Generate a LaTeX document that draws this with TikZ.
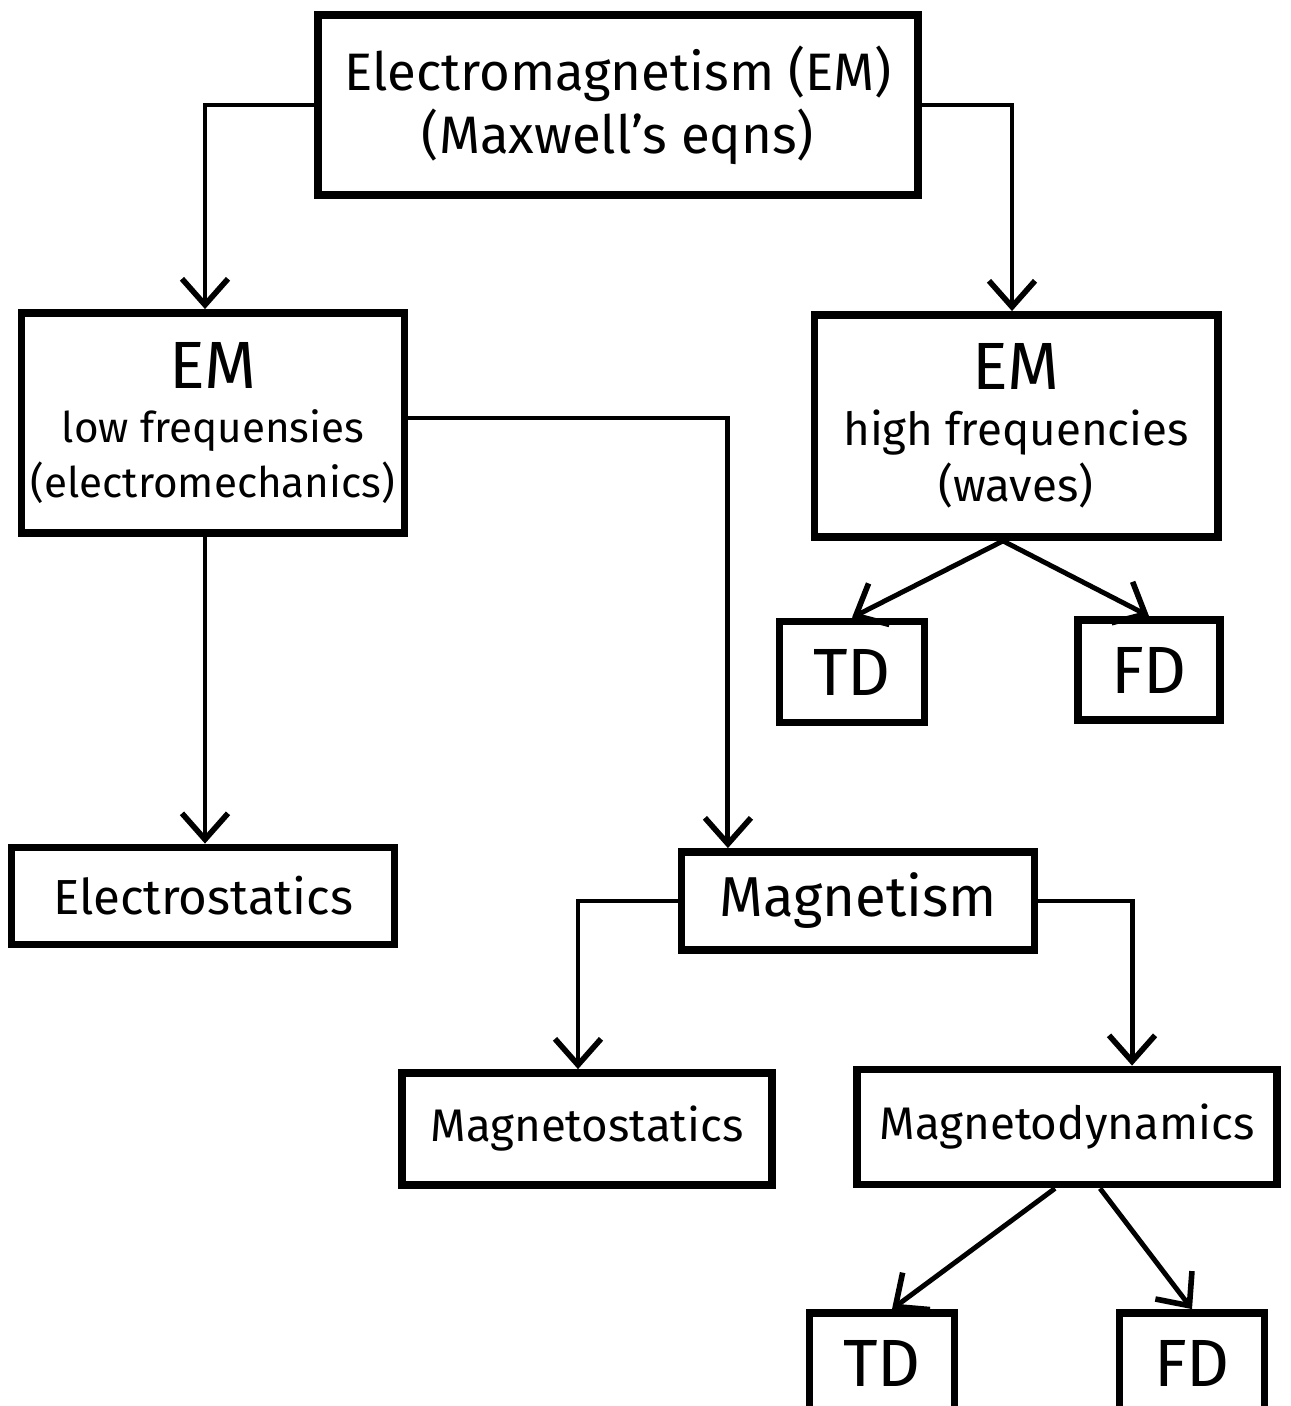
\documentclass[tikz,border=0pt]{standalone}
\usepackage{fontspec}
\setmainfont{Fira Sans}
\usetikzlibrary{arrows.meta}

\begin{document}
\begin{tikzpicture}[x=0.01cm, y=-0.01cm]
        \tikzstyle{every node}=[draw, line width=2.2pt, inner sep=2pt, align=center, font=\fontsize{13}{16}\selectfont]
        \tikzstyle{arr}=[line width=1.4pt, -{Straight Barb[length=2.6mm, width=4.6mm, line width=1.6pt]}]
        \tikzstyle{big}=[font=\fontsize{19}{22}\selectfont]
        \useasboundingbox (0,0) rectangle (1291,1406);
        \clip (0,0) rectangle (1291,1406);
        \node [minimum width=6cm, minimum height=1.8cm, font=\fontsize{15}{18}\selectfont] (em) at (618,105) {Electromagnetism (EM)\\(Maxwell's eqns)};
        \node [minimum width=3.83cm, minimum height=2.2cm, font=\fontsize{12}{15.5}\selectfont] (low) at (213,423) {{\fontsize{19}{22}\selectfont EM}\\low frequensies\\(electromechanics)};
        \node [minimum width=4.03cm, minimum height=2.22cm] (high) at (1016,426) {{\fontsize{19}{22}\selectfont EM}\\high frequencies\\(waves)};
        \node [big, minimum width=1.45cm, minimum height=1.01cm] (tdw) at (852,672) {TD};
        \node [big, minimum width=1.42cm, minimum height=1cm] (fdw) at (1149,670) {FD};
        \node [minimum width=3.83cm, minimum height=0.97cm, font=\fontsize{14}{17}\selectfont] (estat) at (203,896) {Electrostatics};
        \node [minimum width=3.53cm, minimum height=0.98cm, font=\fontsize{16}{19}\selectfont] (magn) at (858,901) {Magnetism};
        \node [minimum width=3.7cm, minimum height=1.12cm] (mstat) at (587,1129) {Magnetostatics};
        \node [minimum width=4.2cm, minimum height=1.15cm] (mdyn) at (1067,1127) {Magnetodynamics};
        \node [big, minimum width=1.45cm, minimum height=1cm] (tdm) at (882,1363) {TD};
        \node [big, minimum width=1.45cm, minimum height=1cm] (fdm) at (1192,1363) {FD};
        \draw [arr] (em.west) -| ([xshift=-0.08cm]low.north);
        \draw [arr] (em.east) -| ([xshift=-0.04cm]high.north);
        \draw [arr] ([yshift=0.05cm]low.east) -| ([xshift=-1.3cm]magn.north);
        \draw [arr] ([xshift=-0.08cm]low.south) -- ([xshift=-0.08cm]low.south |- estat.north);
        \draw [arr] ([xshift=-0.13cm]high.south) -- (tdw.north);
        \draw [arr] ([xshift=-0.13cm]high.south) -- (fdw.north);
        \draw [arr] (magn.west) -| ([xshift=-0.09cm]mstat.north);
        \draw [arr] (magn.east) -| ([xshift=0.65cm]mdyn.north);
        \draw [arr] ([xshift=-0.12cm]mdyn.south) -- ([xshift=0.1cm]tdm.north);
        \draw [arr] ([xshift=0.33cm]mdyn.south) -- (fdm.north);
    \end{tikzpicture}
\end{document}
